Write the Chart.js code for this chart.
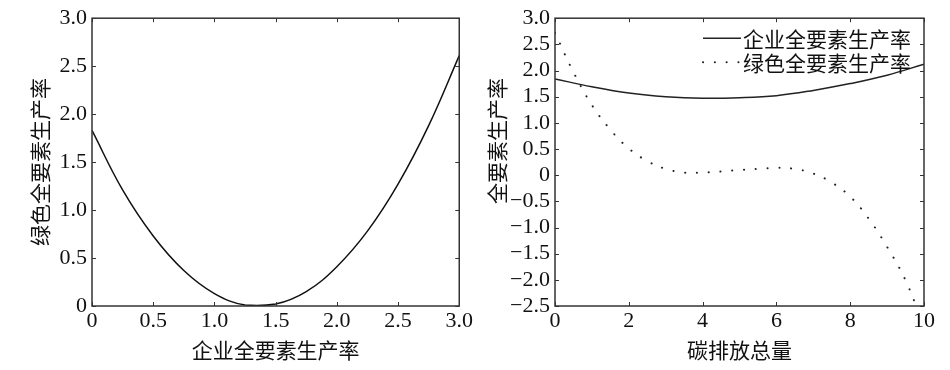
<!DOCTYPE html>
<html>
<head>
<meta charset="utf-8">
<script src="https://cdn.jsdelivr.net/npm/chart.js@4/dist/chart.umd.min.js"></script>
<style>
  body { margin: 0; background: #fff; }
  #wrap { position: relative; width: 950px; height: 370px; }
  canvas { position: absolute; top: 0; }
</style>
</head>
<body>
<div id="wrap">
  <canvas id="chart-left" width="475" height="370" style="left:0"></canvas>
  <canvas id="chart-right" width="475" height="370" style="left:475px"></canvas>
</div>
<script>
// left panel: enterprise TFP vs green TFP
var leftX = [0, 0.25, 0.5, 0.75, 1.0, 1.25, 1.5, 1.75, 2.0, 2.25, 2.5, 2.75, 3.0];
var leftY = [1.83, 1.21, 0.73, 0.37, 0.13, 0.01, 0.02, 0.15, 0.41, 0.78, 1.27, 1.88, 2.61];

// right panel: total carbon emission vs TFP
var enterpriseX = [0, 1, 2, 3, 4, 5, 6, 7, 8, 9, 10];
var enterpriseY = [1.84, 1.69, 1.57, 1.50, 1.47, 1.48, 1.52, 1.62, 1.75, 1.91, 2.12];
var greenX = [0, 0.5, 1, 1.5, 2, 2.5, 3, 3.5, 4, 4.5, 5, 5.5, 6, 6.5, 7, 7.5, 8, 8.5, 9, 9.5, 10];
var greenY = [2.72, 1.97, 1.34, 0.87, 0.51, 0.27, 0.12, 0.05, 0.05, 0.07, 0.10, 0.12, 0.14, 0.12, 0.03, -0.14, -0.41, -0.83, -1.37, -2.01, -2.9];

var seriesLabels = ["企业全要素生产率", "绿色全要素生产率"];
var leftTitles = { x: "企业全要素生产率", y: "绿色全要素生产率" };
var rightTitles = { x: "碳排放总量", y: "全要素生产率" };

var tickFont = { family: "'Liberation Serif', 'Times New Roman', serif", size: 22 };
var cjkFont = { family: "'Noto Sans CJK SC', sans-serif", size: 21 };

function toPoints(xs, ys) {
  return xs.map(function (x, i) { return { x: x, y: ys[i] }; });
}

function fmt(v) {
  if (v === 0) return "0";
  return v.toFixed(1).replace("-", "\u2212");
}

// box around the plot + ticks pointing inward on all four sides
var boxTicks = {
  id: "boxTicks",
  afterDraw: function (chart) {
    var ctx = chart.ctx, a = chart.chartArea, sx = chart.scales.x, sy = chart.scales.y;
    ctx.save();
    ctx.strokeStyle = "#333";
    ctx.lineWidth = 1.5;
    ctx.strokeRect(a.left, a.top, a.right - a.left, a.bottom - a.top);
    ctx.lineWidth = 1;
    ctx.beginPath();
    sx.ticks.forEach(function (t) {
      var px = Math.round(sx.getPixelForValue(t.value)) + 0.5;
      ctx.moveTo(px, a.bottom); ctx.lineTo(px, a.bottom - 4);
      ctx.moveTo(px, a.top); ctx.lineTo(px, a.top + 4);
    });
    sy.ticks.forEach(function (t) {
      var py = Math.round(sy.getPixelForValue(t.value)) + 0.5;
      ctx.moveTo(a.left, py); ctx.lineTo(a.left + 4, py);
      ctx.moveTo(a.right, py); ctx.lineTo(a.right - 4, py);
    });
    ctx.stroke();
    ctx.restore();
  }
};

// legend drawn inside the top right of the plot, no frame
var innerLegend = {
  id: "innerLegend",
  afterDraw: function (chart) {
    var ctx = chart.ctx, a = chart.chartArea;
    var x0 = a.right - 221, x1 = a.right - 183;
    ctx.save();
    ctx.font = "21px 'Noto Sans CJK SC', sans-serif";
    ctx.textBaseline = "middle";
    ctx.fillStyle = "#111";
    chart.data.datasets.forEach(function (ds, i) {
      var y = a.top + 20 + i * 24;
      ctx.strokeStyle = ds.borderColor;
      ctx.lineWidth = ds.borderWidth;
      ctx.lineCap = ds.borderCapStyle || "butt";
      ctx.setLineDash(ds.borderDash || []);
      ctx.beginPath();
      ctx.moveTo(x0, y); ctx.lineTo(x1, y);
      ctx.stroke();
      ctx.setLineDash([]);
      ctx.fillText(ds.label, x1 + 2, y + 1);
    });
    ctx.restore();
  }
};

function axes(xMin, xMax, xStep, yMin, yMax, titles, yWidth, yTitlePad, xFmt) {
  return {
    x: {
      type: "linear", min: xMin, max: xMax,
      grid: { display: false, drawTicks: false },
      border: { display: false },
      ticks: { stepSize: xStep, font: tickFont, color: "#111", padding: 2, maxRotation: 0, autoSkip: false, callback: xFmt },
      title: { display: true, text: titles.x, font: cjkFont, color: "#111", padding: { top: 0, bottom: 7 } },
      afterFit: function (s) { s.height = 64; }
    },
    y: {
      type: "linear", min: yMin, max: yMax,
      grid: { display: false, drawTicks: false },
      border: { display: false },
      ticks: { stepSize: 0.5, font: tickFont, color: "#111", padding: 5, autoSkip: false, callback: fmt },
      title: { display: true, text: titles.y, font: cjkFont, color: "#111", padding: { top: yTitlePad, bottom: 0 } },
      afterFit: function (s) { s.width = yWidth; }
    }
  };
}

new Chart(document.getElementById("chart-left"), {
  type: "line",
  data: {
    datasets: [{
      label: seriesLabels[1],
      data: toPoints(leftX, leftY),
      borderColor: "#111",
      borderWidth: 1.5,
      pointRadius: 0,
      tension: 0.4
    }]
  },
  options: {
    responsive: false,
    animation: false,
    layout: { padding: { top: 15, right: 11, bottom: 0, left: 0 } },
    plugins: { legend: { display: false }, tooltip: { enabled: false } },
    scales: axes(0, 3, 0.5, 0, 3, leftTitles, 92, 27, fmt)
  },
  plugins: [boxTicks]
});

new Chart(document.getElementById("chart-right"), {
  type: "line",
  data: {
    datasets: [{
      label: seriesLabels[0],
      data: toPoints(enterpriseX, enterpriseY),
      borderColor: "#222",
      borderWidth: 1.5,
      pointRadius: 0,
      tension: 0.4
    }, {
      label: seriesLabels[1],
      data: toPoints(greenX, greenY),
      borderColor: "#222",
      borderWidth: 2,
      borderDash: [0.1, 11.7],
      borderCapStyle: "round",
      pointRadius: 0,
      tension: 0.4
    }]
  },
  options: {
    responsive: false,
    animation: false,
    layout: { padding: { top: 15, right: 26, bottom: 0, left: 0 } },
    plugins: { legend: { display: false }, tooltip: { enabled: false } },
    scales: axes(0, 10, 2, -2.5, 3, { x: rightTitles.x, y: "\u3000\u3000" + rightTitles.y }, 80, 9,
      function (v) { return String(v); })
  },
  plugins: [boxTicks, innerLegend]
});
</script>
</body>
</html>
